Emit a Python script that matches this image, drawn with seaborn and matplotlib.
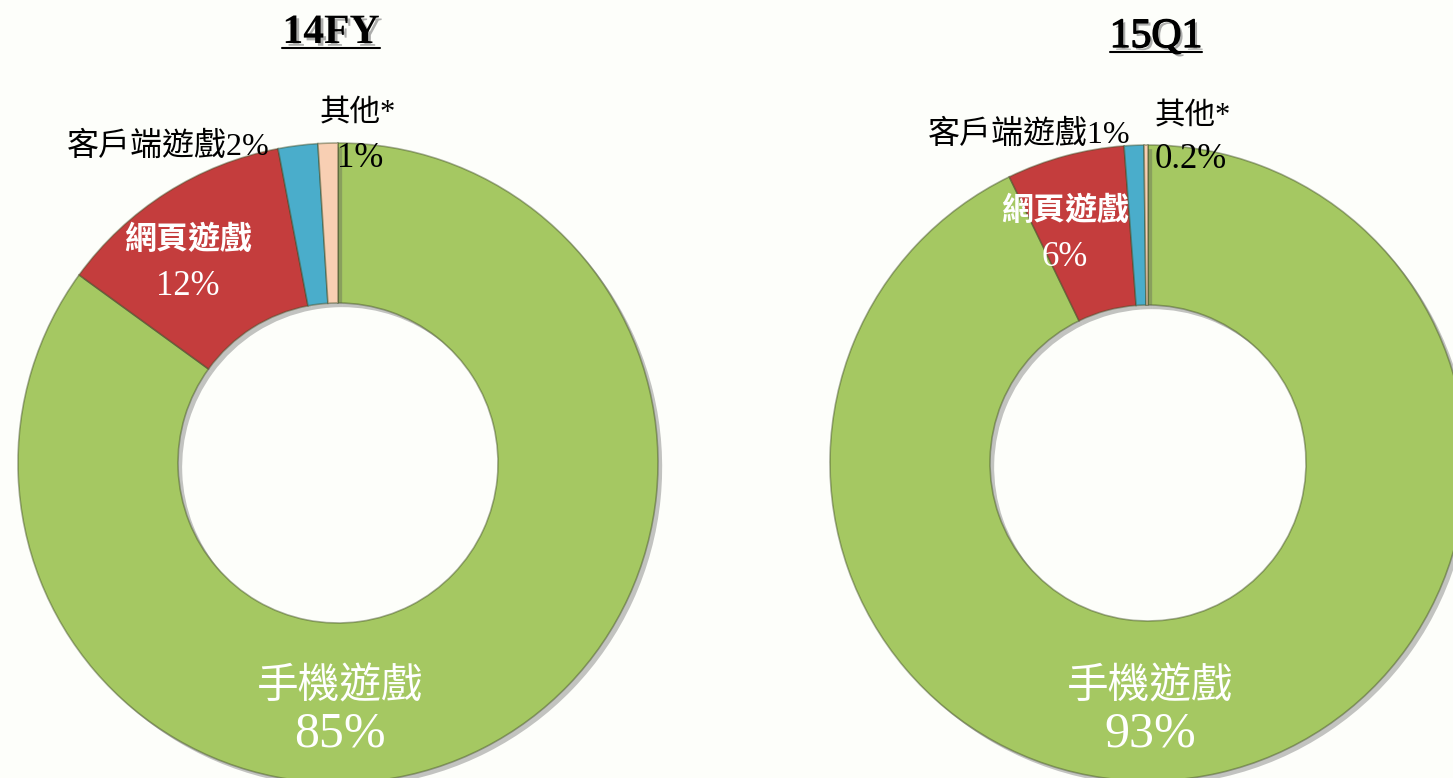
import matplotlib
matplotlib.use("Agg")
import matplotlib.pyplot as plt
import matplotlib.patheffects as pe
import seaborn as sns

# data
categories = ["手機遊戲", "網頁遊戲", "客戶端遊戲", "其他*"]
share_14fy = [85, 12, 2, 1]
share_15q1 = [93, 6, 1, 0.2]
titles = ["14FY", "15Q1"]
colors = ["#A5C862", "#C43D3D", "#4AADCB", "#F8CFB3"]

sns.set_theme(style="white")
plt.rcParams["font.family"] = ["Liberation Serif", "Noto Sans CJK TC", "DejaVu Sans"]

W, H = 1453, 778
fig = plt.figure(figsize=(W / 100, H / 100), dpi=100, facecolor="#FDFEFA")
ax = fig.add_axes([0, 0, 1, 1])
ax.set_facecolor("#FDFEFA")

def py(y):
    # pixel row (from top) -> data y
    return H - y

shadow = [pe.SimplePatchShadow(offset=(3, -3), shadow_rgbFace="#555555", alpha=0.35), pe.Normal()]

pies = [
    dict(vals=share_14fy, title=titles[0], cx=338, cy=463, r=320, bold=True),
    dict(vals=share_15q1, title=titles[1], cx=1148, cy=463, r=318, bold=False),
]

for p in pies:
    wedges, _ = ax.pie(p["vals"], colors=colors, startangle=90, counterclock=False,
                       center=(p["cx"], py(p["cy"])), radius=p["r"], frame=True,
                       wedgeprops=dict(width=160, edgecolor=(0.25, 0.3, 0.15, 0.45), linewidth=1.2))
    for w in wedges:
        w.set_path_effects(shadow)

ax.set_xlim(0, W)
ax.set_ylim(0, H)
ax.set_aspect("auto")
ax.axis("off")

def pct(v):
    return f"{v:g}%"

# titles with underline
title_pos = [(331, 43), (1156, 47)]
fig.canvas.draw()
renderer = fig.canvas.get_renderer()
for p, (tx, ty) in zip(pies, title_pos):
    effects = [pe.SimplePatchShadow(offset=(2, -2), shadow_rgbFace="#777777", alpha=0.6)]
    if not p["bold"]:
        effects.append(pe.Stroke(linewidth=1.0, foreground="black"))
    effects.append(pe.Normal())
    t = ax.text(tx, py(ty), p["title"], ha="center", va="baseline", fontsize=30,
                fontweight="bold" if p["bold"] else "normal", color="black",
                path_effects=effects)
    bb = t.get_window_extent(renderer)
    ax.plot([bb.x0, bb.x1], [py(ty + 5), py(ty + 5)], color="black", lw=1.5)

# left chart labels
v = share_14fy
ax.text(340, py(688), categories[0], ha="center", va="center", fontsize=30, color="white")
ax.text(340, py(734), pct(v[0]), ha="center", va="center", fontsize=36, color="white")
ax.text(188, py(241), categories[1], ha="center", va="center", fontsize=23, color="white", fontweight="bold")
ax.text(188, py(286), pct(v[1]), ha="center", va="center", fontsize=25, color="white")
ax.text(270, py(155), categories[2] + pct(v[2]), ha="right", va="baseline", fontsize=23, color="black")
ax.text(320, py(121), categories[3], ha="left", va="baseline", fontsize=22, color="black")
ax.text(337, py(167), pct(v[3]), ha="left", va="baseline", fontsize=25, color="black")

# right chart labels
v = share_15q1
ax.text(1150, py(688), categories[0], ha="center", va="center", fontsize=30, color="white")
ax.text(1150, py(734), pct(v[0]), ha="center", va="center", fontsize=36, color="white")
ax.text(1065, py(212), categories[1], ha="center", va="center", fontsize=23, color="white", fontweight="bold")
ax.text(1065, py(257), pct(v[1]), ha="center", va="center", fontsize=25, color="white")
ax.text(1130, py(143), categories[2] + pct(v[2]), ha="right", va="baseline", fontsize=23, color="black")
ax.text(1155, py(124), categories[3], ha="left", va="baseline", fontsize=22, color="black")
ax.text(1155, py(168), pct(v[3]), ha="left", va="baseline", fontsize=25, color="black")

fig.savefig("out.png", dpi=100, facecolor=fig.get_facecolor())
